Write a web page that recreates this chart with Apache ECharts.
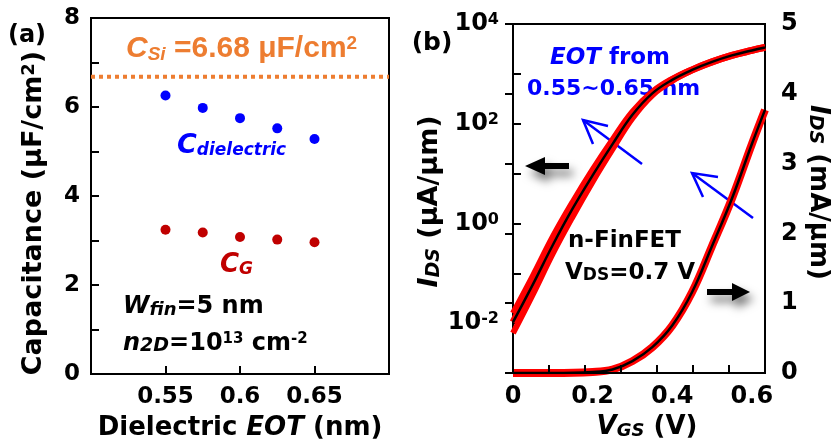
<!DOCTYPE html>
<html><head><meta charset="utf-8">
<script src="https://cdn.jsdelivr.net/npm/echarts@6/dist/echarts.min.js"></script>
<style>html,body{margin:0;padding:0;background:#fff}#c{width:838px;height:446px}</style>
</head><body><div id="c"></div>
<script>
// ---------- Panel (a): capacitance vs EOT ----------
const eotValues   = [0.55, 0.575, 0.6, 0.625, 0.65];          // nm
const cDielectric = [6.26, 5.98, 5.75, 5.52, 5.28];           // uF/cm2
const cGate       = [3.24, 3.18, 3.08, 3.02, 2.96];           // uF/cm2
const cSi         = 6.68;                                      // uF/cm2
const eotTicks    = [0.55, 0.6, 0.65];
const eotRange    = [0.5, 0.7];

// ---------- Panel (b): transfer curves ----------
const vgsLog      = [0, 0.05, 0.1, 0.15, 0.2, 0.25, 0.3, 0.35, 0.4, 0.45, 0.5, 0.55, 0.6, 0.633]; // V
const idsLogMid   = [0.0105, 0.060, 0.37, 2.0, 9.2, 39, 151, 407, 759, 1202, 1738, 2344, 2951, 3388]; // uA/um
const idsLogHigh  = [0.0158, 0.089, 0.54, 2.7, 12.0, 47.9, 174, 437, 794, 1230, 1778, 2399, 3020, 3467];
const idsLogLow   = [0.0063, 0.038, 0.25, 1.38, 6.9, 30.9, 129, 372, 724, 1175, 1698, 2291, 2884, 3311];
const vgsLin      = [0, 0.1, 0.2, 0.25, 0.3, 0.35, 0.4, 0.45, 0.5, 0.55, 0.6, 0.633];               // V
const idsLin      = [0, 0, 0.015, 0.05, 0.17, 0.37, 0.68, 1.16, 1.82, 2.50, 3.28, 3.77];            // mA/um
const vgsTickLabels = [0, 0.2, 0.4, 0.6];

const F = 'DejaVu Sans';
const A = 'Liberation Sans';
const BLUE = '#0000FF', DRED = '#C00000', ORANGE = '#ED7D31';

function st(size, o) { return Object.assign({fontFamily: F, fontWeight: 'bold', fontSize: size, lineHeight: size}, o || {}); }
const zip = (xs, ys) => xs.map((x, i) => [x, ys[i]]);
const near = (v, list) => list.some(t => Math.abs(v - t) < 1e-6);

const chart = echarts.init(document.getElementById('c'), null, {renderer: 'canvas'});

const axisLineStyle = {show: true, lineStyle: {color: '#000', width: 2}};
const tickStyle = {show: true, inside: true, length: 8, lineStyle: {color: '#000', width: 2}};

const option = {
  animation: false,
  backgroundColor: '#fff',
  grid: [
    {left: 91, top: 18, width: 298, height: 357, show: true, borderColor: '#000', borderWidth: 2, backgroundColor: 'transparent'},
    {left: 513, top: 24, width: 252, height: 349, show: true, borderColor: '#000', borderWidth: 2, backgroundColor: 'transparent'}
  ],
  xAxis: [
    {
      gridIndex: 0, type: 'value', min: eotRange[0], max: eotRange[1], interval: 0.05, position: 'bottom', z: 5,
      axisLine: axisLineStyle, splitLine: {show: false}, axisTick: tickStyle,
      axisLabel: {margin: 12, color: '#000', fontFamily: F, fontWeight: 'bold', fontSize: 23,
                  formatter: v => near(v, eotTicks) ? String(+v.toFixed(2)) : ''},
      name: '{n|Dielectric }{i|EOT}{n| (nm)}', nameLocation: 'middle', nameGap: 41,
      nameTextStyle: {rich: {n: st(26, {color: '#000'}), i: st(26, {fontStyle: 'italic', color: '#000'})}}
    },
    {
      gridIndex: 1, type: 'value', min: 0, max: 0.633, position: 'bottom',
      axisLine: axisLineStyle, splitLine: {show: false}, axisTick: {show: false},
      axisLabel: {customValues: vgsTickLabels, margin: 12, color: '#000', fontFamily: F, fontWeight: 'bold', fontSize: 24,
                  formatter: v => String(+v.toFixed(1))},
      name: '{i|V}{s|GS}{n| (V)}', nameLocation: 'middle', nameGap: 40,
      nameTextStyle: {padding: [0, 0, 0, 16], rich: {
        i: st(26, {fontStyle: 'italic', color: '#000', lineHeight: 26}),
        s: st(18, {fontStyle: 'italic', color: '#000', lineHeight: 10, verticalAlign: 'bottom'}),
        n: st(26, {color: '#000', lineHeight: 26})}}
    },
    {
      gridIndex: 1, type: 'value', min: 0, max: 0.7, interval: 0.1, position: 'bottom', z: 5,
      axisLine: {show: true, lineStyle: {color: '#000', width: 2}}, splitLine: {show: false},
      axisTick: tickStyle, axisLabel: {show: false}
    }
  ],
  yAxis: [
    {
      gridIndex: 0, type: 'value', min: 0, max: 8, interval: 1,
      axisLine: axisLineStyle, splitLine: {show: false}, axisTick: tickStyle,
      axisLabel: {margin: 11, color: '#000', fontFamily: F, fontWeight: 'bold', fontSize: 23,
                  formatter: v => (Math.round(v) % 2 === 0 ? String(Math.round(v)) : '')},
      name: '{n|Capacitance (μF/cm}{p|2}{n|)}', nameLocation: 'middle', nameGap: 44,
      nameTextStyle: {padding: [0, 34, 0, 0], rich: {
        n: st(27, {color: '#000', lineHeight: 27}),
        p: st(18, {color: '#000', lineHeight: 9, verticalAlign: 'top'})}}
    },
    {
      gridIndex: 1, type: 'log', logBase: 10, min: 0.001, max: 10000, splitNumber: 7,
      axisLine: axisLineStyle, splitLine: {show: false}, minorTick: {show: false}, axisTick: tickStyle,
      axisLabel: {margin: 14, color: '#000', fontFamily: F, fontWeight: 'bold', fontSize: 24,
                  formatter: v => { const e = Math.round(Math.log10(v)); return (e % 2 === 0) ? '{b|10}{s|' + e + '}' : ''; },
                  rich: {b: st(24, {color: '#000', lineHeight: 24}), s: st(16, {color: '#000', lineHeight: 9, verticalAlign: 'top'})}},
      name: '{i|I}{s|DS}{n| (μA/μm)}', nameLocation: 'middle', nameGap: 66,
      nameTextStyle: {padding: [0, 6, 0, 0], rich: {
        i: st(27, {fontStyle: 'italic', color: '#000', lineHeight: 27}),
        s: st(19, {fontStyle: 'italic', color: '#000', lineHeight: 10, verticalAlign: 'bottom'}),
        n: st(27, {color: '#000', lineHeight: 27})}}
    },
    {
      gridIndex: 1, type: 'value', min: 0, max: 5, interval: 1, position: 'right',
      axisLine: axisLineStyle, splitLine: {show: false}, axisTick: tickStyle,
      axisLabel: {margin: 16, color: '#000', fontFamily: F, fontWeight: 'bold', fontSize: 24},
      name: '{i|I}{s|DS}{n| (mA/μm)}', nameLocation: 'middle', nameGap: 40, nameRotate: -90,
      nameTextStyle: {padding: [0, 12, 0, 0], rich: {
        i: st(26, {fontStyle: 'italic', color: '#000', lineHeight: 26}),
        s: st(19, {fontStyle: 'italic', color: '#000', lineHeight: 10, verticalAlign: 'bottom'}),
        n: st(26, {color: '#000', lineHeight: 26})}}
    }
  ],
  series: [
    {type: 'line', xAxisIndex: 0, yAxisIndex: 0, data: [[eotRange[0], cSi], [eotRange[1], cSi]], symbol: 'none',
     lineStyle: {color: ORANGE, width: 4, type: [4, 4]}, z: 3},
    {type: 'scatter', xAxisIndex: 0, yAxisIndex: 0, data: zip(eotValues, cDielectric), symbolSize: 10,
     itemStyle: {color: BLUE, opacity: 1}},
    {type: 'scatter', xAxisIndex: 0, yAxisIndex: 0, data: zip(eotValues, cGate), symbolSize: 10,
     itemStyle: {color: DRED, opacity: 1}},

    {type: 'line', xAxisIndex: 1, yAxisIndex: 1, data: zip(vgsLog, idsLogHigh), symbol: 'none', smooth: 0.4,
     lineStyle: {color: '#FF0000', width: 6}},
    {type: 'line', xAxisIndex: 1, yAxisIndex: 1, data: zip(vgsLog, idsLogLow), symbol: 'none', smooth: 0.4,
     lineStyle: {color: '#FF0000', width: 6}},
    {type: 'line', xAxisIndex: 1, yAxisIndex: 1, data: zip(vgsLog, idsLogMid), symbol: 'none', smooth: 0.4,
     lineStyle: {color: '#FF0000', width: 7}},
    {type: 'line', xAxisIndex: 1, yAxisIndex: 1, data: zip(vgsLog, idsLogMid), symbol: 'none', smooth: 0.4,
     lineStyle: {color: '#000', width: 2.5}},

    {type: 'line', xAxisIndex: 1, yAxisIndex: 2, data: zip(vgsLin, idsLin), symbol: 'none', smooth: 0.4,
     lineStyle: {color: '#FF0000', width: 8}},
    {type: 'line', xAxisIndex: 1, yAxisIndex: 2, data: zip(vgsLin, idsLin), symbol: 'none', smooth: 0.4,
     lineStyle: {color: '#000', width: 2.5}}
  ],
  graphic: [
    {type: 'text', x: 27, y: 36, style: {text: '(a)', font: 'bold 24px "DejaVu Sans"', fill: '#000', align: 'center', verticalAlign: 'middle'}},
    {type: 'text', x: 432, y: 43, style: {text: '(b)', font: 'bold 25px "DejaVu Sans"', fill: '#000', align: 'center', verticalAlign: 'middle'}},
    {type: 'text', x: 126, y: 49, style: {text: '{c|C}{s|Si}{t| =6.68 μF/cm}{p|2}', align: 'left', verticalAlign: 'middle',
      rich: {
        c: {fontFamily: A, fontWeight: 'bold', fontStyle: 'italic', fontSize: 30, lineHeight: 30, fill: ORANGE, color: ORANGE},
        s: {fontFamily: A, fontWeight: 'bold', fontStyle: 'italic', fontSize: 19, lineHeight: 10, verticalAlign: 'bottom', fill: ORANGE, color: ORANGE},
        t: {fontFamily: A, fontWeight: 'bold', fontSize: 30, lineHeight: 30, fill: ORANGE, color: ORANGE},
        p: {fontFamily: A, fontWeight: 'bold', fontSize: 19, lineHeight: 8, verticalAlign: 'top', fill: ORANGE, color: ORANGE}}}},
    {type: 'text', x: 177, y: 146, style: {text: '{c|C}{s|dielectric}', align: 'left', verticalAlign: 'middle',
      rich: {
        c: st(27, {fontStyle: 'italic', fill: BLUE, color: BLUE}),
        s: st(17, {fontStyle: 'italic', lineHeight: 10, verticalAlign: 'bottom', fill: BLUE, color: BLUE})}}},
    {type: 'text', x: 220, y: 265, style: {text: '{c|C}{s|G}', align: 'left', verticalAlign: 'middle',
      rich: {
        c: st(26, {fontStyle: 'italic', fill: DRED, color: DRED}),
        s: st(17, {fontStyle: 'italic', lineHeight: 10, verticalAlign: 'bottom', fill: DRED, color: DRED})}}},
    {type: 'text', x: 123, y: 307, style: {text: '{w|W}{s|fin}{t|=5 nm}', align: 'left', verticalAlign: 'middle',
      rich: {
        w: st(24, {fontStyle: 'italic', fill: '#000', color: '#000'}),
        s: st(18, {fontStyle: 'italic', lineHeight: 10, verticalAlign: 'bottom', fill: '#000', color: '#000'}),
        t: st(24, {fill: '#000', color: '#000'})}}},
    {type: 'text', x: 123, y: 344, style: {text: '{w|n}{s|2D}{t|=10}{p|13}{t| cm}{p|-2}', align: 'left', verticalAlign: 'middle',
      rich: {
        w: st(24, {fontStyle: 'italic', fill: '#000', color: '#000'}),
        s: st(19, {fontStyle: 'italic', lineHeight: 10, verticalAlign: 'bottom', fill: '#000', color: '#000'}),
        t: st(24, {fill: '#000', color: '#000'}),
        p: st(15, {lineHeight: 8, verticalAlign: 'top', fill: '#000', color: '#000'})}}},
    {type: 'text', x: 550, y: 58, style: {text: '{i|EOT}{t| from}', align: 'left', verticalAlign: 'middle',
      rich: {i: st(23, {fontStyle: 'italic', fill: BLUE, color: BLUE}), t: st(23, {fill: BLUE, color: BLUE})}}},
    {type: 'text', x: 527, y: 89, style: {text: '0.55~0.65 nm', font: 'bold 22px "DejaVu Sans"', fill: BLUE, align: 'left', verticalAlign: 'middle'}},
    {type: 'text', x: 568, y: 241, style: {text: 'n-FinFET', font: 'bold 23px "DejaVu Sans"', fill: '#000', align: 'left', verticalAlign: 'middle'}},
    {type: 'text', x: 565, y: 273, style: {text: '{t|V}{s|DS}{t|=0.7 V}', align: 'left', verticalAlign: 'middle',
      rich: {t: st(23, {fill: '#000', color: '#000'}), s: st(17, {lineHeight: 10, verticalAlign: 'bottom', fill: '#000', color: '#000'})}}},
    {type: 'polyline', shape: {points: [[642, 164], [583, 120]]}, style: {stroke: BLUE, lineWidth: 2.5, fill: null}},
    {type: 'polyline', shape: {points: [[593, 144], [583, 120], [608, 126]]}, style: {stroke: BLUE, lineWidth: 2.5, fill: null}},
    {type: 'polyline', shape: {points: [[753, 218], [692, 173]]}, style: {stroke: BLUE, lineWidth: 2.5, fill: null}},
    {type: 'polyline', shape: {points: [[703, 197], [692, 173], [718, 177]]}, style: {stroke: BLUE, lineWidth: 2.5, fill: null}},
    {type: 'polygon', shape: {points: [[525, 166], [545, 157], [545, 163], [569, 163], [569, 169], [545, 169], [545, 175]]},
     style: {fill: '#000', shadowBlur: 10, shadowColor: 'rgba(0,0,0,0.55)', shadowOffsetX: 4, shadowOffsetY: 7}},
    {type: 'polygon', shape: {points: [[750, 292], [732, 283], [732, 289], [707, 289], [707, 295], [732, 295], [732, 301]]},
     style: {fill: '#000', shadowBlur: 10, shadowColor: 'rgba(0,0,0,0.55)', shadowOffsetX: 4, shadowOffsetY: 7}}
  ]
};
chart.setOption(option);
</script></body></html>
